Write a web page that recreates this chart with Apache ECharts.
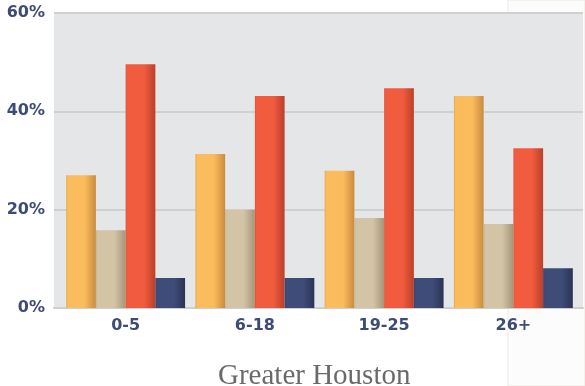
<!DOCTYPE html>
<html>

<head>
<title>Greater Houston</title>
<meta charset="utf-8">
<style>
	html, body { margin: 0; padding: 0; background: #ffffff; }
	#chart { width: 585px; height: 386px; }
</style>
</head>

<body>

<div id="chart"></div>

<script src="https://cdn.jsdelivr.net/npm/echarts@6/dist/echarts.min.js"></script>
<script>
var categories = ['0-5', '6-18', '19-25', '26+'];

var yellow_values = [27.0, 31.3, 27.9, 43.1];
var tan_values    = [15.8, 20.0, 18.3, 17.1];
var red_values    = [49.6, 43.1, 44.7, 32.5];
var navy_values   = [6.1, 6.1, 6.1, 8.1];

var y_ticks = [0, 20, 40, 60];

var my_chart = null;

function shade(left, mid, right)
{
	return {
		type: 'linear', x: 0, y: 0, x2: 1, y2: 0,
		colorStops: [
			{ offset: 0, color: left },
			{ offset: 0.06, color: mid },
			{ offset: 0.62, color: mid },
			{ offset: 1, color: right }
		]
	};
}

function bar_series(name, values, color)
{
	return {
		name: name,
		type: 'bar',
		xAxisIndex: 1,
		yAxisIndex: 1,
		barGap: '0%',
		barCategoryGap: '8%',
		itemStyle: { color: color },
		data: values
	};
}

function main()
{
	my_chart = echarts.init(document.getElementById("chart"));

	var label_style = {
		color: '#3e4a78',
		fontFamily: 'DejaVu Sans',
		fontWeight: 'bold',
		fontSize: 16
	};

	var option = {
		animation: false,

		graphic: [{
			type: 'rect',
			z: -10,
			shape: { x: 508, y: 0, width: 77, height: 386 },
			style: { fill: '#fcfcfc', stroke: '#eee9e0', lineWidth: 1 }
		}],

		title: {
			text: 'Greater Houston',
			left: 213,
			top: 357,
			textStyle: {
				fontFamily: 'Liberation Serif',
				fontWeight: 'normal',
				fontSize: 29,
				color: '#6a6a6a'
			}
		},

		grid: [
			{ left: 54, right: 2, top: 13, bottom: 78, show: true,
			  backgroundColor: '#e5e6e8', borderWidth: 0 },
			{ left: 61, right: 7, top: 13, bottom: 78 }
		],

		xAxis: [
			{
				gridIndex: 0,
				type: 'value',
				min: 0, max: 1,
				axisLine: { show: true, lineStyle: { color: '#cfcfcf', width: 2 } },
				axisTick: { show: false },
				axisLabel: { show: false },
				splitLine: { show: false }
			},
			{
				gridIndex: 1,
				type: 'category',
				data: categories,
				axisLine: { show: false },
				axisTick: { show: false },
				axisLabel: Object.assign({ margin: 10 }, label_style)
			}
		],

		yAxis: [
			{
				gridIndex: 0,
				type: 'value',
				min: y_ticks[0],
				max: y_ticks[y_ticks.length - 1],
				interval: 20,
				axisLine: { show: false },
				axisTick: { show: false },
				axisLabel: Object.assign({ margin: 9, formatter: '{value}%' }, label_style),
				splitLine: { show: true, lineStyle: { color: '#d0d0d2', width: 2 } }
			},
			{
				gridIndex: 1,
				type: 'value',
				min: y_ticks[0],
				max: y_ticks[y_ticks.length - 1],
				show: false
			}
		],

		series: [
			bar_series('Yellow', yellow_values, shade('#e6a952', '#fbbc5e', '#c98c3c')),
			bar_series('Tan', tan_values, shade('#c4b596', '#d3c4a5', '#a3977a')),
			bar_series('Red', red_values, shade('#e3543a', '#f15c3f', '#bc3f28')),
			bar_series('Navy', navy_values, shade('#38446d', '#3f4c78', '#2a3457'))
		]
	};

	my_chart.setOption(option);
}

main();
</script>

</body>
</html>
